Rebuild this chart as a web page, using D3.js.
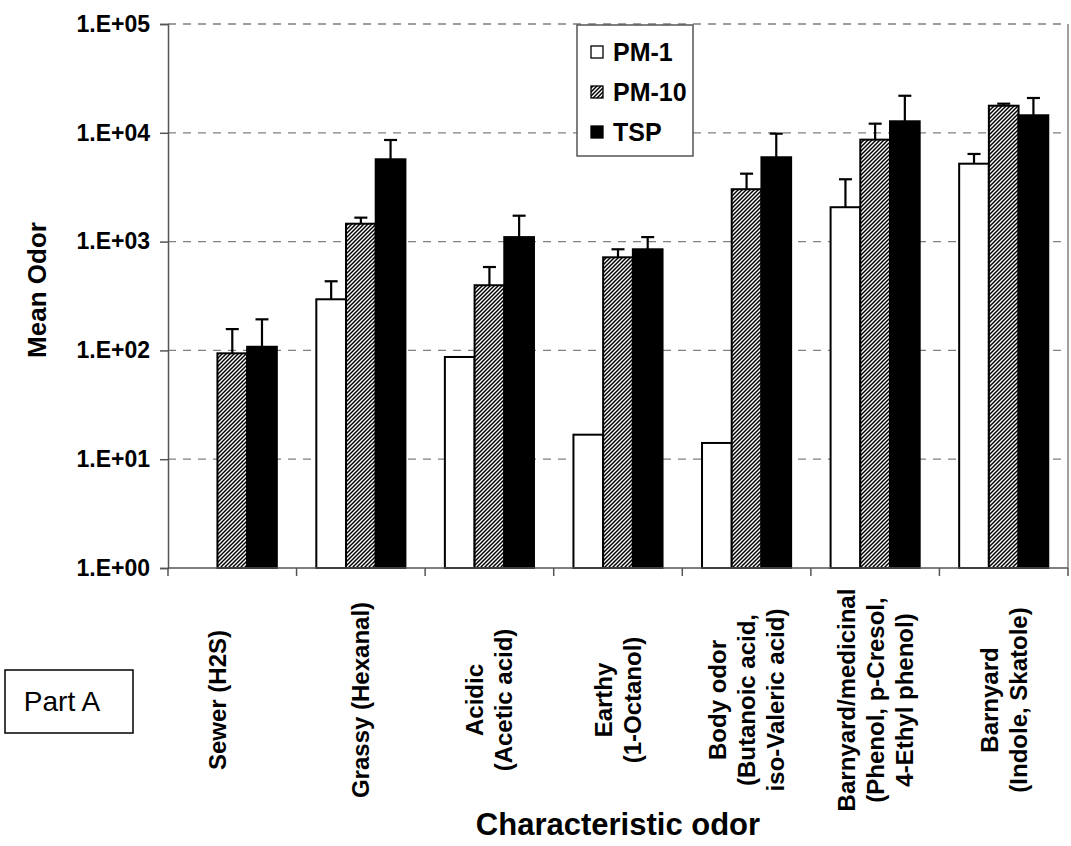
<!DOCTYPE html>
<html lang="en">

<head>
    <meta charset="UTF-8" />
    <title>Mean Odor by Characteristic odor</title>
    <script src="https://d3js.org/d3.v7.min.js"></script>
    <style>
        body {
            margin: 0;
            padding: 0;
            background-color: #ffffff;
            font-family: Arial, "Liberation Sans", sans-serif;
        }

        .tick-label {
            font-size: 23px;
            font-weight: bold;
            fill: #000;
        }

        .cat-label {
            font-size: 24px;
            font-weight: bold;
            fill: #000;
        }

        .axis-title {
            font-weight: bold;
            fill: #000;
        }

        .legend-text {
            font-size: 25px;
            font-weight: bold;
            fill: #000;
        }
    </style>
</head>

<body>

    <svg id="chart" width="1071" height="846"></svg>

    <script>
        // Categories (each entry = lines of the rotated label)
        const categories = [
            ["Sewer (H2S)", ""],
            ["Grassy (Hexanal)"],
            ["Acidic", "(Acetic acid)"],
            ["Earthy", "(1-Octanol)"],
            ["Body odor", "(Butanoic acid,", "iso-Valeric acid)"],
            ["Barnyard/medicinal", "(Phenol, p-Cresol,", "4-Ethyl phenol)"],
            ["Barnyard", "(Indole, Skatole)"]
        ];

        const seriesNames = ["PM-1", "PM-10", "TSP"];

        // Mean odor values (null = no bar)
        const pm1 = [null, 295, 87, 16.8, 14.1, 2070, 5200];
        const pm10 = [94, 1460, 397, 717, 3030, 8650, 17740];
        const tsp = [108, 5710, 1100, 850, 5960, 12760, 14490];

        // Positive error bar amounts
        const pm1Err = [null, 137, null, null, null, 1670, 1190];
        const pm10Err = [63, 200, 187, 133, 1180, 3480, 780];
        const tspErr = [85, 2880, 630, 250, 3860, 9140, 6400];

        // Y axis ticks
        const yTicks = [1, 10, 100, 1000, 10000, 100000];
        const yTickLabels = ["1.E+00", "1.E+01", "1.E+02", "1.E+03", "1.E+04", "1.E+05"];

        const svg = d3.select("#chart");

        const margin = { left: 168, right: 1068, top: 24, bottom: 568 };

        // Hatch pattern for PM-10
        const defs = svg.append("defs");
        const hatch = defs.append("pattern")
            .attr("id", "hatch")
            .attr("patternUnits", "userSpaceOnUse")
            .attr("width", 4)
            .attr("height", 4);
        hatch.append("rect")
            .attr("width", 4).attr("height", 4).attr("fill", "#fff");
        hatch.append("path")
            .attr("d", "M-1,1 L1,-1 M0,4 L4,0 M3,5 L5,3")
            .attr("stroke", "#000")
            .attr("stroke-width", 1.5);

        const fills = ["#ffffff", "url(#hatch)", "#000000"];

        const series = [pm1, pm10, tsp].map((vals, s) => ({
            name: seriesNames[s],
            fill: fills[s],
            values: vals.map((v, i) => ({ cat: i, value: v, err: [pm1Err, pm10Err, tspErr][s][i] }))
        }));

        // Scales
        const x0 = d3.scaleBand()
            .domain(d3.range(categories.length))
            .range([margin.left, margin.right])
            .paddingInner(0.307)
            .paddingOuter(0.1535);

        const x1 = d3.scaleBand()
            .domain(d3.range(seriesNames.length))
            .range([0, x0.bandwidth()]);

        const y = d3.scaleLog()
            .domain([1, 100000])
            .range([margin.bottom, margin.top]);

        // Gridlines (dashed)
        svg.append("g")
            .selectAll("line")
            .data(yTicks.slice(1))
            .enter().append("line")
            .attr("x1", margin.left)
            .attr("x2", margin.right)
            .attr("y1", d => y(d))
            .attr("y2", d => y(d))
            .attr("stroke", "#808080")
            .attr("stroke-width", 1.3)
            .attr("stroke-dasharray", "8,7");

        // Right edge of plot
        svg.append("line")
            .attr("x1", margin.right).attr("x2", margin.right)
            .attr("y1", margin.top).attr("y2", margin.bottom)
            .attr("stroke", "#808080")
            .attr("stroke-width", 1.5);

        // Bars
        const groups = svg.append("g")
            .selectAll("g")
            .data(series)
            .enter().append("g");

        groups.selectAll("rect")
            .data((d, s) => d.values.filter(v => v.value != null).map(v => ({ ...v, s, fill: d.fill })))
            .enter().append("rect")
            .attr("x", d => x0(d.cat) + x1(d.s))
            .attr("y", d => y(d.value))
            .attr("width", x1.bandwidth())
            .attr("height", d => y(1) - y(d.value))
            .attr("fill", d => d.fill)
            .attr("stroke", "#000")
            .attr("stroke-width", 2);

        // Error bars (plus only)
        const errData = series.flatMap((d, s) =>
            d.values.filter(v => v.value != null && v.err != null).map(v => ({ ...v, s })));

        const err = svg.append("g")
            .selectAll("g")
            .data(errData)
            .enter().append("g")
            .attr("stroke", "#000")
            .attr("stroke-width", 2.2);

        err.append("line")
            .attr("x1", d => x0(d.cat) + x1(d.s) + x1.bandwidth() / 2)
            .attr("x2", d => x0(d.cat) + x1(d.s) + x1.bandwidth() / 2)
            .attr("y1", d => y(d.value))
            .attr("y2", d => y(d.value + d.err));

        err.append("line")
            .attr("x1", d => x0(d.cat) + x1(d.s) + x1.bandwidth() / 2 - 6.5)
            .attr("x2", d => x0(d.cat) + x1(d.s) + x1.bandwidth() / 2 + 6.5)
            .attr("y1", d => y(d.value + d.err))
            .attr("y2", d => y(d.value + d.err));

        // Y axis
        const yAxis = svg.append("g")
            .attr("transform", `translate(${margin.left},0)`)
            .call(d3.axisLeft(y).tickValues(yTicks).tickFormat((d, i) => yTickLabels[i]).tickSizeOuter(0).tickSize(8).tickPadding(10));
        yAxis.select(".domain").attr("stroke", "#555").attr("stroke-width", 1.5);
        yAxis.selectAll(".tick line").attr("stroke", "#555").attr("stroke-width", 1.5);
        yAxis.selectAll(".tick text")
            .attr("class", "tick-label");

        // X axis (ticks at category boundaries)
        const step = x0.step();
        const bounds = d3.range(categories.length + 1).map(i => margin.left + i * step);
        svg.append("line")
            .attr("x1", margin.left).attr("x2", margin.right)
            .attr("y1", margin.bottom).attr("y2", margin.bottom)
            .attr("stroke", "#555")
            .attr("stroke-width", 1.5);
        svg.append("g")
            .selectAll("line")
            .data(bounds)
            .enter().append("line")
            .attr("x1", d => d).attr("x2", d => d)
            .attr("y1", margin.bottom).attr("y2", margin.bottom + 8)
            .attr("stroke", "#555")
            .attr("stroke-width", 1.5);

        // Category labels (rotated, multi-line, centered)
        const lineH = 29;
        const labelCenterY = 700;
        const catLabel = svg.append("g")
            .selectAll("text")
            .data(categories)
            .enter().append("text")
            .attr("class", "cat-label")
            .attr("text-anchor", "middle")
            .attr("transform", (d, i) => `translate(${x0(i) + x0.bandwidth() / 2},${labelCenterY}) rotate(-90)`);

        catLabel.selectAll("tspan")
            .data(d => d.map((t, k) => ({ t, k, n: d.length })))
            .enter().append("tspan")
            .attr("x", 0)
            .attr("y", d => (d.k - (d.n - 1) / 2) * lineH)
            .attr("dy", "0.35em")
            .text(d => d.t);

        // Axis titles
        svg.append("text")
            .attr("class", "axis-title")
            .attr("font-size", 26)
            .attr("text-anchor", "middle")
            .attr("transform", `translate(46,${(margin.top + margin.bottom) / 2 - 6}) rotate(-90)`)
            .text("Mean Odor");

        svg.append("text")
            .attr("class", "axis-title")
            .attr("font-size", 31)
            .attr("text-anchor", "middle")
            .attr("x", (margin.left + margin.right) / 2)
            .attr("y", 835)
            .text("Characteristic odor");

        // Legend
        const legend = svg.append("g").attr("transform", "translate(577,25)");
        legend.append("rect")
            .attr("width", 116)
            .attr("height", 131)
            .attr("fill", "#fff")
            .attr("stroke", "#555")
            .attr("stroke-width", 1.5);

        const legendItem = legend.selectAll(".legend-item")
            .data(series)
            .enter().append("g")
            .attr("class", "legend-item")
            .attr("transform", (d, i) => `translate(14,${27 + i * 40})`);

        legendItem.append("rect")
            .attr("x", 0)
            .attr("y", -6)
            .attr("width", 12)
            .attr("height", 12)
            .attr("fill", d => d.fill)
            .attr("stroke", "#000")
            .attr("stroke-width", 1.3);

        legendItem.append("text")
            .attr("class", "legend-text")
            .attr("x", 22)
            .attr("dy", "0.36em")
            .text(d => d.name);

        // "Part A" box
        svg.append("rect")
            .attr("x", 5)
            .attr("y", 670)
            .attr("width", 128)
            .attr("height", 63)
            .attr("fill", "#fff")
            .attr("stroke", "#000")
            .attr("stroke-width", 1.5);

        svg.append("text")
            .attr("x", 62)
            .attr("y", 701)
            .attr("dy", "0.36em")
            .attr("text-anchor", "middle")
            .attr("font-size", 28)
            .attr("fill", "#000")
            .text("Part A");
    </script>

</body>

</html>
